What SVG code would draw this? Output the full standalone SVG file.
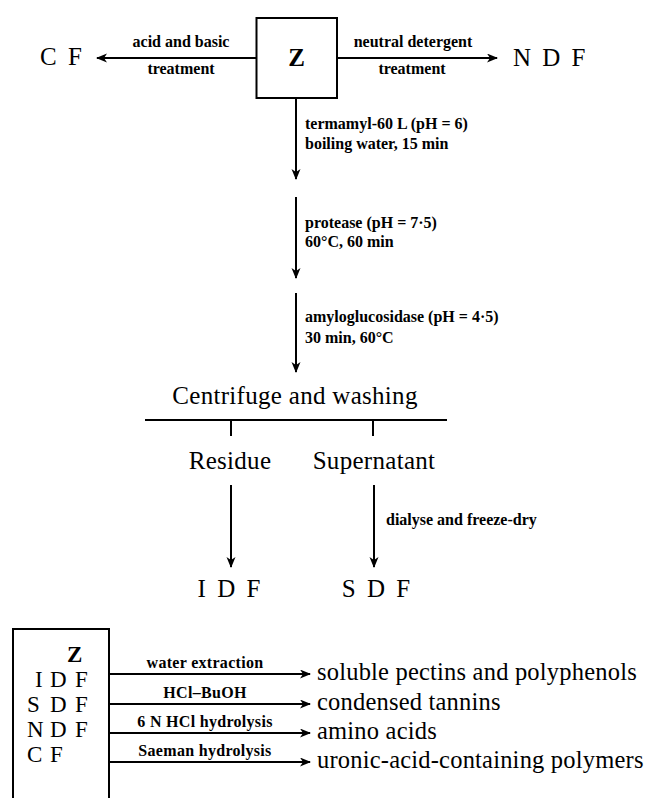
<svg xmlns="http://www.w3.org/2000/svg" width="651" height="798" viewBox="0 0 651 798">
<style>
text{font-family:"Liberation Serif","Times New Roman",serif;fill:#000}
.big{font-size:25px;word-spacing:5px}
.sm{font-size:23px}
.bold{font-weight:bold}
.main{font-size:25px;letter-spacing:0.3px}
.prod{font-size:24.5px;letter-spacing:0.2px}
.lbl{font-size:16px;font-weight:bold}
.blbl{font-size:16px;font-weight:bold;letter-spacing:0.3px}
.c{text-anchor:middle}
.ln{stroke:#000;stroke-width:2;fill:none}
.box{stroke:#000;stroke-width:2;fill:#fff}
</style>
<defs>
<marker id="ah" markerUnits="userSpaceOnUse" markerWidth="12" markerHeight="10" refX="10" refY="4.5" orient="auto">
<path d="M0,0 L11,4.5 L0,9 L3,4.5 Z" fill="#000"/>
</marker>
</defs>
<g id="connectors">
<line class="ln" x1="256" y1="58" x2="97" y2="58" marker-end="url(#ah)"/>
<line class="ln" x1="337" y1="58" x2="497" y2="58" marker-end="url(#ah)"/>
<line class="ln" x1="296" y1="98" x2="296" y2="179" marker-end="url(#ah)"/>
<line class="ln" x1="296" y1="197" x2="296" y2="278" marker-end="url(#ah)"/>
<line class="ln" x1="296" y1="293" x2="296" y2="372" marker-end="url(#ah)"/>
<line class="ln" x1="145" y1="420" x2="447" y2="420"/>
<line class="ln" x1="231" y1="420" x2="231" y2="436"/>
<line class="ln" x1="373" y1="420" x2="373" y2="436"/>
<line class="ln" x1="231" y1="485" x2="231" y2="567" marker-end="url(#ah)"/>
<line class="ln" x1="374" y1="485" x2="374" y2="567" marker-end="url(#ah)"/>
<line class="ln" x1="109" y1="674" x2="310" y2="674" marker-end="url(#ah)"/>
<line class="ln" x1="109" y1="704" x2="310" y2="704" marker-end="url(#ah)"/>
<line class="ln" x1="109" y1="733" x2="310" y2="733" marker-end="url(#ah)"/>
<line class="ln" x1="109" y1="762" x2="310" y2="762" marker-end="url(#ah)"/>
<text class="lbl c" x="181" y="47">acid and basic</text>
<text class="lbl c" x="181" y="74">treatment</text>
<text class="lbl c" x="413" y="47">neutral detergent</text>
<text class="lbl c" x="412" y="74">treatment</text>
<text class="lbl" x="305" y="129">termamyl-60 L (pH = 6)</text>
<text class="lbl" x="305" y="149">boiling water, 15 min</text>
<text class="lbl" x="305" y="228">protease (pH = 7·5)</text>
<text class="lbl" x="305" y="247">60°C, 60 min</text>
<text class="lbl" x="305" y="322">amyloglucosidase (pH = 4·5)</text>
<text class="lbl" x="305" y="343">30 min, 60°C</text>
<text class="lbl" x="386" y="525">dialyse and freeze-dry</text>
<text class="blbl c" x="205" y="668">water extraction</text>
<text class="blbl c" x="205" y="698">HCl–BuOH</text>
<text class="blbl c" x="205" y="727">6 N HCl hydrolysis</text>
<text class="blbl c" x="205" y="756">Saeman hydrolysis</text>
</g>
<g id="Z">
<rect class="box" x="256.5" y="18" width="80.5" height="80"/>
<text class="big bold c" x="296.5" y="66">Z</text>
</g>
<g id="CF"><text class="big" x="40" y="65">C F</text></g>
<g id="NDF"><text class="big" x="513" y="66">N D F</text></g>
<g id="centrifuge"><text class="main c" x="295" y="404">Centrifuge and washing</text></g>
<g id="residue"><text class="main c" x="230" y="469">Residue</text></g>
<g id="supernatant"><text class="main c" x="374" y="469">Supernatant</text></g>
<g id="IDF"><text class="big c" x="229" y="597">I D F</text></g>
<g id="SDF"><text class="big c" x="376" y="597">S D F</text></g>
<g id="fractions">
<path class="ln" d="M13,800 V629 H109 V800"/>
<text class="sm bold" x="67" y="662">Z</text>
<text class="sm" x="35" y="687">I</text><text class="sm" x="50" y="687">D</text><text class="sm" x="75" y="687">F</text>
<text class="sm" x="27" y="712">S</text><text class="sm" x="50" y="712">D</text><text class="sm" x="75" y="712">F</text>
<text class="sm" x="27" y="737">N</text><text class="sm" x="50" y="737">D</text><text class="sm" x="75" y="737">F</text>
<text class="sm" x="27" y="762">C</text><text class="sm" x="50" y="762">F</text>
</g>
<g id="products">
<text class="prod" x="317" y="680">soluble pectins and polyphenols</text>
<text class="prod" x="317" y="710">condensed tannins</text>
<text class="prod" x="317" y="739">amino acids</text>
<text class="prod" x="317" y="768">uronic-acid-containing polymers</text>
</g>
</svg>
